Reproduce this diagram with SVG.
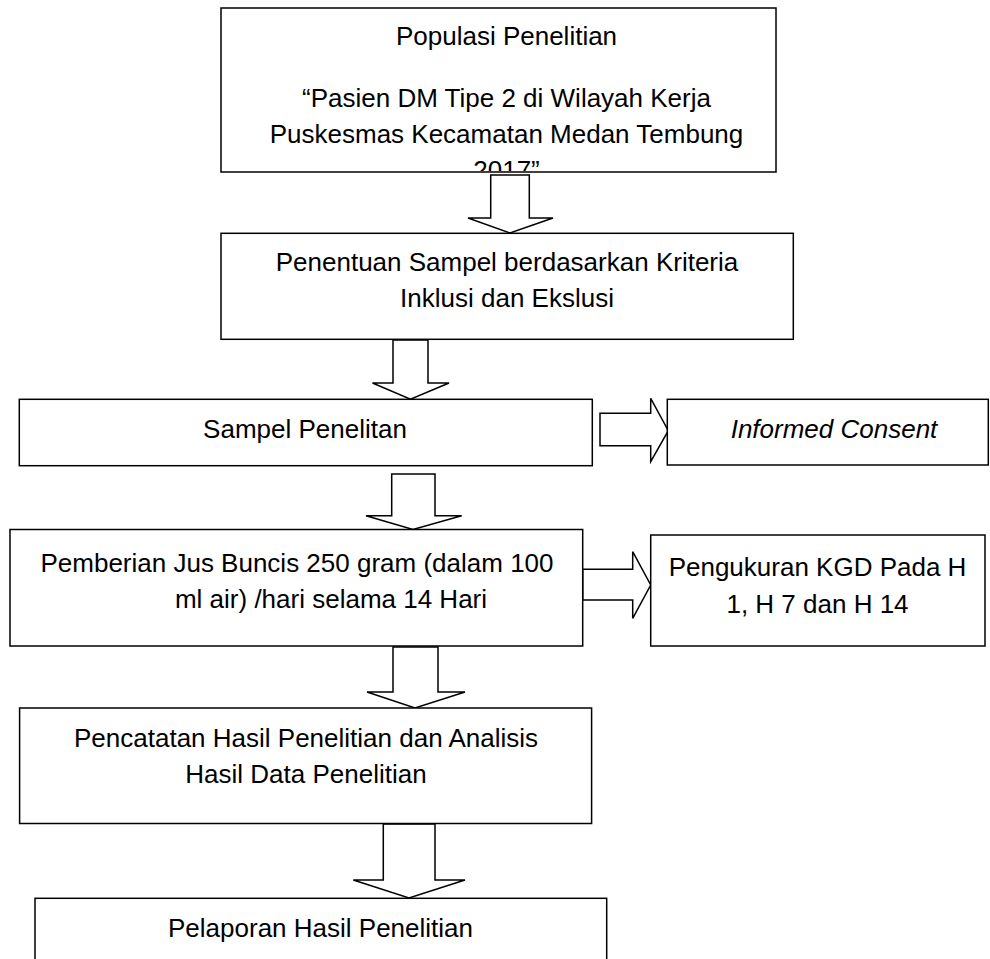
<svg xmlns="http://www.w3.org/2000/svg" width="990" height="959" viewBox="0 0 990 959">
<style>
.box{fill:#fff;stroke:#000;stroke-width:1.5}
.arr{fill:#fff;stroke:#000;stroke-width:1.5;stroke-linejoin:miter}
text{font-family:"Liberation Sans",Arial,sans-serif;font-size:26px;fill:#000;text-anchor:middle}
.it{font-style:italic}
</style>
<defs>
<clipPath id="c1"><rect x="222" y="9" width="553" height="162"/></clipPath>
</defs>
<rect width="990" height="959" fill="#fff"/>
<g id="connectors">
<polygon class="arr" points="490.7,175 490.7,218 468,218 510,233 553,218 529.3,218 529.3,175"/>
<polygon class="arr" points="393,340 393,383 372.5,383 410.5,399.3 449,383 428,383 428,340"/>
<polygon class="arr" points="391.7,474 391.7,515.7 366,515.7 413,529.5 461.7,515.7 435,515.7 435,474"/>
<polygon class="arr" points="393,647 393,692 367,692 415,708 465,692 438,692 438,647"/>
<polygon class="arr" points="383.3,824 383.3,880 353.3,880 409,898 465,880 435,880 435,824"/>
<polygon class="arr" points="600,413.3 650.7,413.3 650.7,398.3 668.3,430.7 650.7,461.7 650.7,445.7 600,445.7"/>
<polygon class="arr" points="582.7,569.3 632.7,569.3 632.7,551.7 650.7,585 632.7,618.3 632.7,600 582.7,600"/>
</g>
<g id="n1">
<rect class="box" x="221" y="8" width="555" height="164"/>
<g clip-path="url(#c1)">
<text x="506.5" y="45">Populasi Penelitian</text>
<text x="506.5" y="107">“Pasien DM Tipe 2 di Wilayah Kerja</text>
<text x="506.5" y="143">Puskesmas Kecamatan Medan Tembung</text>
<text x="506.5" y="179">2017”</text>
</g>
</g>
<g id="n2">
<rect class="box" x="221" y="233.3" width="572.3" height="106"/>
<text x="507" y="270.7">Penentuan Sampel berdasarkan Kriteria</text>
<text x="507" y="306.7">Inklusi dan Ekslusi</text>
</g>
<g id="n3">
<rect class="box" x="19.3" y="399.3" width="573" height="66.4"/>
<text x="305" y="438.3">Sampel Penelitan</text>
</g>
<g id="n4">
<rect class="box" x="667.3" y="399.3" width="321" height="65.7"/>
<text class="it" x="834" y="438">Informed Consent</text>
</g>
<g id="n5">
<rect class="box" x="10" y="529.5" width="572.7" height="116.5"/>
<text x="297" y="572">Pemberian Jus Buncis 250 gram (dalam 100</text>
<text x="331" y="608">ml air) /hari selama 14 Hari</text>
</g>
<g id="n6">
<rect class="box" x="650.7" y="535" width="334.3" height="111"/>
<text x="817.5" y="576">Pengukuran KGD Pada H</text>
<text x="817.5" y="613">1, H 7 dan H 14</text>
</g>
<g id="n7">
<rect class="box" x="19.6" y="708" width="572" height="115.5"/>
<text x="306" y="746.7">Pencatatan Hasil Penelitian dan Analisis</text>
<text x="306" y="782.7">Hasil Data Penelitian</text>
</g>
<g id="n8">
<rect class="box" x="35" y="898.3" width="571.7" height="70"/>
<text x="320.5" y="936.7">Pelaporan Hasil Penelitian</text>
</g>
</svg>
